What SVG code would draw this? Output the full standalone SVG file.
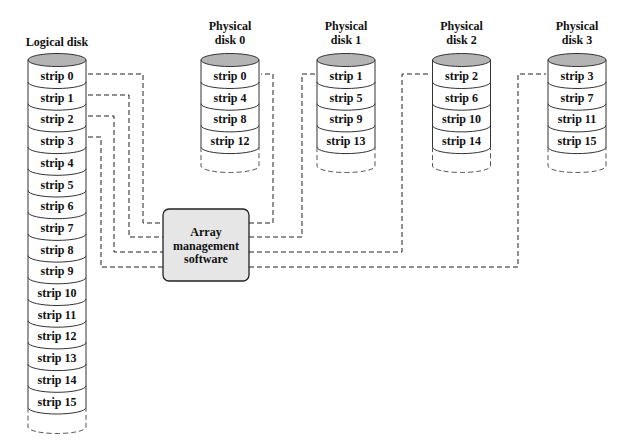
<svg xmlns="http://www.w3.org/2000/svg" width="644" height="444" viewBox="0 0 644 444">
  <style>
    text { font-family: "Liberation Serif", "Times New Roman", serif; font-weight: bold; font-size: 12px; fill: #111; text-anchor: middle; }
    .body { fill: #fff; stroke: #333; stroke-width: 1; }
    .top { fill: #b4b4b4; stroke: #333; stroke-width: 1; }
    .sep { fill: none; stroke: #333; stroke-width: 1; }
    .spare { fill: none; stroke: #555; stroke-width: 1; stroke-dasharray: 5 3; }
    .link { fill: none; stroke: #222; stroke-width: 1; stroke-dasharray: 5 3; }
    .box { fill: #e6e6e6; stroke: #222; stroke-width: 1.3; }
  </style>

  <!-- Logical disk: 16 strips -->
  <g id="logical-disk">
    <text x="57" y="46">Logical disk</text>
    <path class="body" d="M28,60 L28,407.5 A29,6.5 0 0 0 86,407.5 L86,60 Z"/>
    <ellipse class="top" cx="57" cy="60" rx="29" ry="6.5"/>
    <path class="sep" d="M28,82 A29,6.5 0 0 0 86,82 M28,103.7 A29,6.5 0 0 0 86,103.7 M28,125.4 A29,6.5 0 0 0 86,125.4 M28,147.1 A29,6.5 0 0 0 86,147.1 M28,168.8 A29,6.5 0 0 0 86,168.8 M28,190.5 A29,6.5 0 0 0 86,190.5 M28,212.2 A29,6.5 0 0 0 86,212.2 M28,233.9 A29,6.5 0 0 0 86,233.9 M28,255.6 A29,6.5 0 0 0 86,255.6 M28,277.3 A29,6.5 0 0 0 86,277.3 M28,299 A29,6.5 0 0 0 86,299 M28,320.7 A29,6.5 0 0 0 86,320.7 M28,342.4 A29,6.5 0 0 0 86,342.4 M28,364.1 A29,6.5 0 0 0 86,364.1 M28,385.8 A29,6.5 0 0 0 86,385.8"/>
    <path class="spare" d="M28,407.5 V427 A29,6.5 0 0 0 86,427 V407.5"/>
    <text x="57" y="80">strip 0</text>
    <text x="57" y="101.7">strip 1</text>
    <text x="57" y="123.4">strip 2</text>
    <text x="57" y="145.1">strip 3</text>
    <text x="57" y="166.8">strip 4</text>
    <text x="57" y="188.5">strip 5</text>
    <text x="57" y="210.2">strip 6</text>
    <text x="57" y="231.9">strip 7</text>
    <text x="57" y="253.6">strip 8</text>
    <text x="57" y="275.3">strip 9</text>
    <text x="57" y="297">strip 10</text>
    <text x="57" y="318.7">strip 11</text>
    <text x="57" y="340.4">strip 12</text>
    <text x="57" y="362.1">strip 13</text>
    <text x="57" y="383.8">strip 14</text>
    <text x="57" y="405.5">strip 15</text>
  </g>

  <!-- Physical disk 0 -->
  <g id="physical-disk-0">
    <text x="230" y="30">Physical</text>
    <text x="230" y="44">disk 0</text>
    <path class="body" d="M201,60 L201,147.1 A29,6.5 0 0 0 259,147.1 L259,60 Z"/>
    <ellipse class="top" cx="230" cy="60" rx="29" ry="6.5"/>
    <path class="sep" d="M201,82 A29,6.5 0 0 0 259,82 M201,103.7 A29,6.5 0 0 0 259,103.7 M201,125.4 A29,6.5 0 0 0 259,125.4"/>
    <path class="spare" d="M201,147.1 V166 A29,6.5 0 0 0 259,166 V147.1"/>
    <text x="230" y="80">strip 0</text>
    <text x="230" y="101.7">strip 4</text>
    <text x="230" y="123.4">strip 8</text>
    <text x="230" y="145.1">strip 12</text>
  </g>

  <!-- Physical disk 1 -->
  <g id="physical-disk-1">
    <text x="346" y="30">Physical</text>
    <text x="346" y="44">disk 1</text>
    <path class="body" d="M317,60 L317,147.1 A29,6.5 0 0 0 375,147.1 L375,60 Z"/>
    <ellipse class="top" cx="346" cy="60" rx="29" ry="6.5"/>
    <path class="sep" d="M317,82 A29,6.5 0 0 0 375,82 M317,103.7 A29,6.5 0 0 0 375,103.7 M317,125.4 A29,6.5 0 0 0 375,125.4"/>
    <path class="spare" d="M317,147.1 V166 A29,6.5 0 0 0 375,166 V147.1"/>
    <text x="346" y="80">strip 1</text>
    <text x="346" y="101.7">strip 5</text>
    <text x="346" y="123.4">strip 9</text>
    <text x="346" y="145.1">strip 13</text>
  </g>

  <!-- Physical disk 2 -->
  <g id="physical-disk-2">
    <text x="461.5" y="30">Physical</text>
    <text x="461.5" y="44">disk 2</text>
    <path class="body" d="M432.5,60 L432.5,147.1 A29,6.5 0 0 0 490.5,147.1 L490.5,60 Z"/>
    <ellipse class="top" cx="461.5" cy="60" rx="29" ry="6.5"/>
    <path class="sep" d="M432.5,82 A29,6.5 0 0 0 490.5,82 M432.5,103.7 A29,6.5 0 0 0 490.5,103.7 M432.5,125.4 A29,6.5 0 0 0 490.5,125.4"/>
    <path class="spare" d="M432.5,147.1 V166 A29,6.5 0 0 0 490.5,166 V147.1"/>
    <text x="461.5" y="80">strip 2</text>
    <text x="461.5" y="101.7">strip 6</text>
    <text x="461.5" y="123.4">strip 10</text>
    <text x="461.5" y="145.1">strip 14</text>
  </g>

  <!-- Physical disk 3 -->
  <g id="physical-disk-3">
    <text x="577" y="30">Physical</text>
    <text x="577" y="44">disk 3</text>
    <path class="body" d="M548,60 L548,147.1 A29,6.5 0 0 0 606,147.1 L606,60 Z"/>
    <ellipse class="top" cx="577" cy="60" rx="29" ry="6.5"/>
    <path class="sep" d="M548,82 A29,6.5 0 0 0 606,82 M548,103.7 A29,6.5 0 0 0 606,103.7 M548,125.4 A29,6.5 0 0 0 606,125.4"/>
    <path class="spare" d="M548,147.1 V166 A29,6.5 0 0 0 606,166 V147.1"/>
    <text x="577" y="80">strip 3</text>
    <text x="577" y="101.7">strip 7</text>
    <text x="577" y="123.4">strip 11</text>
    <text x="577" y="145.1">strip 15</text>
  </g>

  <!-- Array management software -->
  <g id="array-management">
    <rect class="box" x="163" y="209" width="86" height="72" rx="6" ry="6"/>
    <text x="206" y="236">Array</text>
    <text x="206" y="250">management</text>
    <text x="206" y="263">software</text>
  </g>

  <!-- Strip routing -->
  <g id="connectors">
    <path class="link" d="M88,74 H143 V223 H163"/>
    <path class="link" d="M88,95 H129 V237 H163"/>
    <path class="link" d="M88,116 H114 V252 H163"/>
    <path class="link" d="M88,137 H101 V267 H163"/>
    <path class="link" d="M249,223 H273 V74 H261"/>
    <path class="link" d="M249,237 H302 V74 H315"/>
    <path class="link" d="M249,252 H402 V74 H430.5"/>
    <path class="link" d="M249,267 H518 V74 H546"/>
  </g>
</svg>
